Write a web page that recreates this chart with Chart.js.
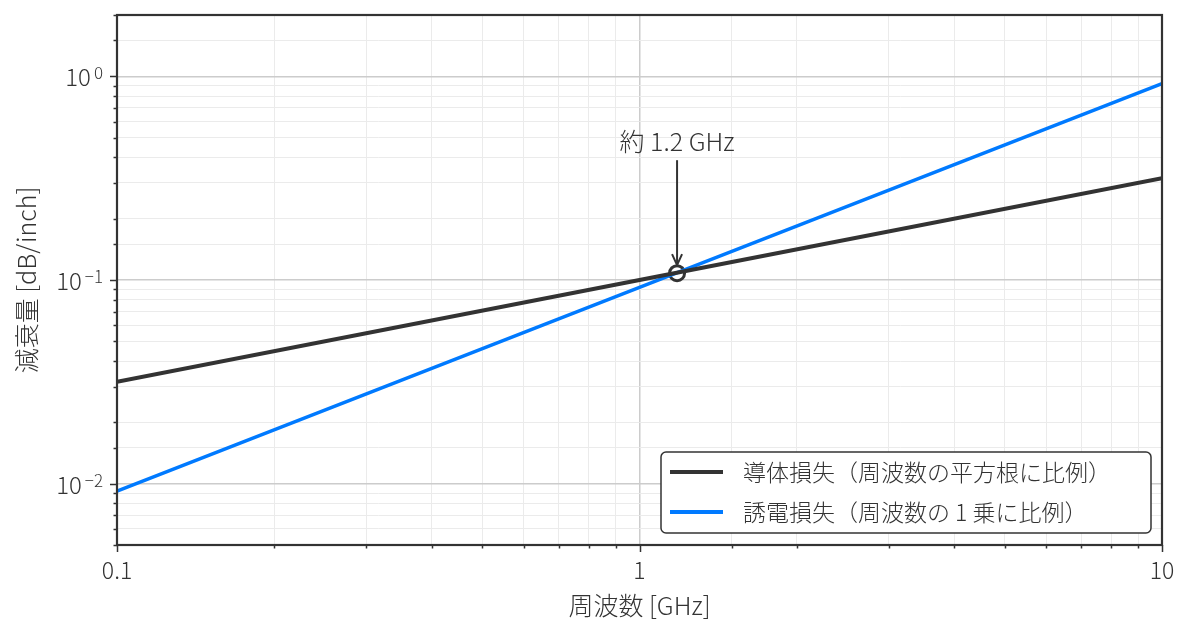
<!DOCTYPE html>
<html>
<head>
<meta charset="utf-8">
<script src="https://cdn.jsdelivr.net/npm/chart.js@4.4.1/dist/chart.umd.min.js"></script>
<style>
  html, body { margin: 0; padding: 0; background: #fff; }
  #wrap { width: 1192px; height: 630px; }
</style>
</head>
<body>
<div id="wrap"><canvas id="c" width="1192" height="630"></canvas></div>
<script>
// values (log-log)
const freqGHz = [0.1, 1, 10];
const conductorLoss = [0.0316, 0.1, 0.316];
const dielectricLoss = [0.0092, 0.092, 0.92];
const crossFreq = [1.18];
const crossLoss = [0.108];

const seriesLabels = [
  "導体損失（周波数の平方根に比例）",
  "誘電損失（周波数の 1 乗に比例）"
];
const seriesColors = ["#333333", "#007aff"];
const xTickLabels = { "0.1": "0.1", "1": "1", "10": "10" };
const annotationText = "約 1.2 GHz";

const FONT = '"Noto Sans CJK JP", "Noto Sans", sans-serif';
const W = "300 ";
const INK = "#333333";

const pts = (xs, ys) => xs.map((x, i) => ({ x, y: ys[i] }));
const isDecade = v => Math.abs(Math.log10(v) - Math.round(Math.log10(v))) < 1e-6;

// frame + outside ticks (long on decades, short otherwise)
const framePlugin = {
  id: "frame",
  afterDatasetsDraw(chart) {
    const { ctx, chartArea: a, scales } = chart;
    ctx.save();
    ctx.strokeStyle = INK;
    ctx.lineWidth = 1.5;
    for (const t of scales.x.ticks) {
      const px = Math.round(scales.x.getPixelForValue(t.value)) + 0.5;
      const len = isDecade(t.value) ? 7 : 3.5;
      ctx.beginPath(); ctx.moveTo(px, a.bottom); ctx.lineTo(px, a.bottom + len); ctx.stroke();
    }
    for (const t of scales.y.ticks) {
      const py = Math.round(scales.y.getPixelForValue(t.value)) + 0.5;
      const len = isDecade(t.value) ? 7 : 3.5;
      ctx.beginPath(); ctx.moveTo(a.left, py); ctx.lineTo(a.left - len, py); ctx.stroke();
    }
    ctx.lineWidth = 2.2;
    ctx.strokeRect(a.left, a.top, a.right - a.left, a.bottom - a.top);

    // y labels as 10 with superscript exponent
    ctx.fillStyle = INK;
    ctx.textBaseline = "alphabetic";
    for (const t of scales.y.ticks) {
      if (!isDecade(t.value)) continue;
      const e = Math.round(Math.log10(t.value));
      const py = scales.y.getPixelForValue(t.value);
      const sup = e < 0 ? "\u2212" + (-e) : String(e);
      ctx.font = W + "17px " + FONT;
      const sw = ctx.measureText(sup).width;
      ctx.font = W + "24px " + FONT;
      const mw = ctx.measureText("10").width;
      const right = a.left - 14;
      ctx.textAlign = "left";
      ctx.fillText("10", right - sw - mw - 3, py + 10);
      ctx.font = W + "17px " + FONT;
      ctx.fillText(sup, right - sw, py + 3);
    }
    ctx.restore();
  }
};

// arrow + text pointing at the crossing point
const annotatePlugin = {
  id: "annotate",
  afterDatasetsDraw(chart) {
    const { ctx, scales } = chart;
    const px = scales.x.getPixelForValue(crossFreq[0]);
    const py = scales.y.getPixelForValue(crossLoss[0]);
    ctx.save();
    ctx.strokeStyle = INK;
    ctx.lineWidth = 2;
    const tip = py - 8, tail = py - 113;
    ctx.beginPath(); ctx.moveTo(px, tail); ctx.lineTo(px, tip); ctx.stroke();
    ctx.beginPath();
    ctx.moveTo(px - 5, tip - 11); ctx.lineTo(px, tip); ctx.lineTo(px + 5, tip - 11);
    ctx.stroke();
    ctx.fillStyle = INK;
    ctx.font = W + "25px " + FONT;
    ctx.textAlign = "center";
    ctx.textBaseline = "middle";
    ctx.fillText(annotationText, px, py - 132);
    ctx.restore();
  }
};

// legend box in the lower right
const legendPlugin = {
  id: "boxLegend",
  afterDraw(chart) {
    const { ctx } = chart;
    const x0 = 661, y0 = 452, w = 490, h = 81;
    ctx.save();
    ctx.beginPath();
    ctx.roundRect(x0, y0, w, h, 5);
    ctx.fillStyle = "#ffffff";
    ctx.fill();
    ctx.lineWidth = 1.5;
    ctx.strokeStyle = INK;
    ctx.stroke();
    ctx.font = W + "23px " + FONT;
    ctx.textBaseline = "middle";
    ctx.textAlign = "left";
    seriesLabels.forEach((lab, i) => {
      const cy = y0 + 20 + i * 40;
      ctx.strokeStyle = seriesColors[i];
      ctx.lineWidth = 4;
      ctx.beginPath(); ctx.moveTo(x0 + 9, cy); ctx.lineTo(x0 + 62, cy); ctx.stroke();
      ctx.fillStyle = INK;
      ctx.fillText(lab, x0 + 82, cy);
    });
    ctx.restore();
  }
};

new Chart(document.getElementById("c"), {
  type: "line",
  data: {
    datasets: [
      {
        label: seriesLabels[0],
        data: pts(freqGHz, conductorLoss),
        borderColor: seriesColors[0],
        borderWidth: 4,
        pointRadius: 0,
        tension: 0
      },
      {
        label: seriesLabels[1],
        data: pts(freqGHz, dielectricLoss),
        borderColor: seriesColors[1],
        borderWidth: 3.5,
        pointRadius: 0,
        tension: 0
      },
      {
        label: "crossing",
        data: pts(crossFreq, crossLoss),
        showLine: false,
        pointRadius: 7.5,
        pointBackgroundColor: "#ffffff",
        pointBorderColor: INK,
        pointBorderWidth: 3
      }
    ]
  },
  options: {
    responsive: false,
    animation: false,
    layout: { padding: { top: 15, right: 30, left: 0, bottom: 0 } },
    plugins: {
      legend: { display: false },
      tooltip: { enabled: false }
    },
    scales: {
      x: {
        type: "logarithmic",
        min: 0.1,
        max: 10,
        border: { display: false },
        grid: {
          drawTicks: false,
          color: c => isDecade(c.tick.value) ? "#cccccc" : "#ebebeb",
          lineWidth: c => isDecade(c.tick.value) ? 1.5 : 1
        },
        ticks: {
          autoSkip: false,
          maxRotation: 0,
          padding: 11,
          color: INK,
          font: { family: FONT, size: 23, weight: 300 },
          callback: v => isDecade(v) ? (xTickLabels[String(v)] || String(v)) : ""
        },
        title: {
          display: true,
          text: "周波数 [GHz]",
          color: INK,
          font: { family: FONT, size: 25, weight: 300 },
          padding: { top: 0, bottom: 10 }
        },
        afterFit: s => { s.height = 85; }
      },
      y: {
        type: "logarithmic",
        min: 0.005,
        max: 2,
        border: { display: false },
        grid: {
          drawTicks: false,
          color: c => isDecade(c.tick.value) ? "#cccccc" : "#ebebeb",
          lineWidth: c => isDecade(c.tick.value) ? 1.5 : 1
        },
        ticks: { display: false, autoSkip: false },
        title: {
          display: true,
          text: "減衰量 [dB/inch]",
          color: INK,
          font: { family: FONT, size: 25, weight: 300 },
          padding: { top: 11, bottom: 0 }
        },
        afterFit: s => { s.width = 117; }
      }
    }
  },
  plugins: [framePlugin, annotatePlugin, legendPlugin]
});
</script>
</body>
</html>
